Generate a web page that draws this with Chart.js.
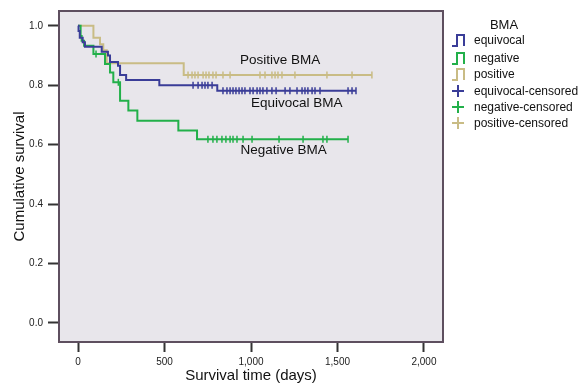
<!DOCTYPE html>
<html>
<head>
<meta charset="utf-8">
<script src="https://cdn.jsdelivr.net/npm/chart.js@4"></script>
<style>
  body { margin: 0; background: #fff; }
  #wrap { position: relative; width: 584px; height: 385px; }
  #legend { position: absolute; left: 448px; top: 15px; font: 12px "Liberation Sans", Arial, sans-serif; color: #111; }
  #legend .title { position: absolute; left: 41px; top: 2px; font-size: 13px; width: 30px; text-align: center; }
  #legend .row { position: absolute; left: 0; height: 14px; line-height: 14px; white-space: nowrap; }
  #legend svg { position: absolute; left: 3px; top: 0; }
  #legend span { position: absolute; left: 26px; top: 0; }
</style>
</head>
<body>
<div id="wrap">
  <canvas id="kmChart" width="584" height="385"></canvas>
  <div id="legend"></div>
</div>
<script>
// Kaplan-Meier steps (days, cumulative survival)
const equivocalTimes = [0, 3, 10, 27, 40, 137, 173, 185, 231, 243, 278, 470, 805];
const equivocalSurv = [1.0, 0.983, 0.96, 0.945, 0.93, 0.913, 0.90, 0.878, 0.866, 0.835, 0.818, 0.80, 0.782];
const equivocalCensored = [665, 694, 717, 734, 751, 775, 838, 861, 879, 896, 913, 931, 948, 965, 994, 1012, 1035, 1052, 1069, 1092, 1121, 1145, 1197, 1225, 1266, 1295, 1312, 1329, 1353, 1370, 1399, 1561, 1584, 1607];

const negativeTimes = [0, 15, 21, 35, 89, 156, 185, 204, 243, 291, 343, 580, 688];
const negativeSurv = [1.0, 0.966, 0.95, 0.933, 0.905, 0.872, 0.843, 0.81, 0.748, 0.715, 0.681, 0.648, 0.618];
const negativeCensored = [104, 233, 751, 780, 803, 832, 855, 879, 896, 919, 954, 1006, 1162, 1301, 1416, 1439, 1561];

const positiveTimes = [0, 89, 127, 146, 166, 611];
const positiveSurv = [1.0, 0.96, 0.938, 0.918, 0.874, 0.835];
const positiveCensored = [636, 659, 676, 694, 723, 740, 757, 780, 798, 838, 879, 1052, 1081, 1121, 1139, 1156, 1179, 1254, 1439, 1584, 1699];

const xTicks = [0, 500, 1000, 1500, 2000];
const yTicks = [0, 0.2, 0.4, 0.6, 0.8, 1.0];

const groupNames = ["equivocal", "negative", "positive"];
const groupColors = ["#3a3d98", "#22b04a", "#c9bc85"];

// in-plot labels
const curveLabels = ["Positive BMA", "Equivocal BMA", "Negative BMA"];
const curveLabelX = [1168, 1264, 1189];
const curveLabelY = [0.883, 0.739, 0.58];

const FONT = "'Liberation Sans', Arial, sans-serif";
Chart.defaults.font.family = FONT;
Chart.defaults.color = "#222";

function survivalAt(times, surv, t) {
  let s = surv[0];
  for (let i = 0; i < times.length; i++) {
    if (times[i] <= t) s = surv[i];
  }
  return s;
}

function stepData(times, surv, censored) {
  const pts = times.map((t, i) => ({ x: t, y: surv[i] }));
  const last = censored[censored.length - 1];
  pts.push({ x: last, y: survivalAt(times, surv, last) });
  return pts;
}

function censorData(times, surv, censored) {
  return censored.map(t => ({ x: t, y: survivalAt(times, surv, t) }));
}

const groups = [
  [equivocalTimes, equivocalSurv, equivocalCensored],
  [negativeTimes, negativeSurv, negativeCensored],
  [positiveTimes, positiveSurv, positiveCensored]
];

const datasets = [];
groups.forEach((g, i) => {
  datasets.push({
    label: groupNames[i],
    data: stepData(g[0], g[1], g[2]),
    stepped: "before",
    borderColor: groupColors[i],
    borderWidth: 2,
    pointRadius: 0,
    fill: false
  });
});
groups.forEach((g, i) => {
  datasets.push({
    label: groupNames[i] + "-censored",
    data: censorData(g[0], g[1], g[2]),
    showLine: false,
    pointStyle: "line",
    rotation: 90,
    pointRadius: 3.5,
    borderColor: groupColors[i],
    backgroundColor: groupColors[i],
    pointBorderWidth: 1.5
  });
});

const framePlugin = {
  id: "frame",
  beforeDraw(chart) {
    const { ctx, chartArea: a } = chart;
    ctx.save();
    ctx.fillStyle = "#e8e6eb";
    ctx.fillRect(a.left, a.top, a.right - a.left, a.bottom - a.top);
    ctx.restore();
  },
  afterDatasetsDraw(chart) {
    const { ctx, chartArea: a, scales } = chart;
    ctx.save();
    ctx.fillStyle = "#111";
    ctx.font = "13.5px " + FONT;
    ctx.textAlign = "center";
    ctx.textBaseline = "middle";
    curveLabels.forEach((txt, i) => {
      ctx.fillText(txt, scales.x.getPixelForValue(curveLabelX[i]), scales.y.getPixelForValue(curveLabelY[i]));
    });
    ctx.strokeStyle = "#5e4f5f";
    ctx.lineWidth = 2;
    ctx.strokeRect(a.left, a.top, a.right - a.left, a.bottom - a.top);
    ctx.restore();
  }
};

new Chart(document.getElementById("kmChart"), {
  type: "line",
  data: { datasets: datasets },
  plugins: [framePlugin],
  options: {
    responsive: false,
    animation: false,
    layout: { padding: { left: 0, top: 10, right: 141, bottom: 0 } },
    plugins: { legend: { display: false }, tooltip: { enabled: false } },
    scales: {
      x: {
        type: "linear",
        min: -110,
        max: 2110,
        afterBuildTicks: s => { s.ticks = xTicks.map(v => ({ value: v })); },
        afterFit: s => { s.height = 43; },
        border: { display: false },
        grid: { drawOnChartArea: false, drawTicks: true, tickLength: 10, tickWidth: 2, tickColor: "#333" },
        ticks: { padding: 4, font: { size: 10 }, maxRotation: 0, callback: v => v.toLocaleString("en-US") },
        title: { display: true, text: "Survival time (days)", font: { size: 15 }, color: "#111", padding: { top: 0, bottom: 0 } }
      },
      y: {
        type: "linear",
        min: -0.064,
        max: 1.05,
        afterBuildTicks: s => { s.ticks = yTicks.map(v => ({ value: v })); },
        afterFit: s => { s.width = 59; },
        border: { display: false },
        grid: { drawOnChartArea: false, drawTicks: true, tickLength: 11, tickWidth: 2, tickColor: "#333" },
        ticks: { padding: 5, font: { size: 10 }, callback: v => v.toFixed(1) },
        title: { display: true, text: "Cumulative survival", font: { size: 15 }, color: "#111", padding: { top: 11, bottom: 0 } }
      }
    }
  }
});

// HTML legend
const legend = document.getElementById("legend");
legend.innerHTML = '<div class="title">BMA</div>';
const rowTops = [18, 36, 52, 69, 85, 101];
const entries = groupNames.map((n, i) => ({ text: n, color: groupColors[i], kind: "step" }))
  .concat(groupNames.map((n, i) => ({ text: n + "-censored", color: groupColors[i], kind: "cross" })));
entries.forEach((e, i) => {
  const path = e.kind === "step" ? "M1,13 H6 V2 H13 V13" : "M1,7 H13 M7,1 V13";
  const row = document.createElement("div");
  row.className = "row";
  row.style.top = rowTops[i] + "px";
  row.innerHTML = '<svg width="15" height="15"><path d="' + path + '" fill="none" stroke="' + e.color + '" stroke-width="2"/></svg><span>' + e.text + '</span>';
  legend.appendChild(row);
});
</script>
</body>
</html>
